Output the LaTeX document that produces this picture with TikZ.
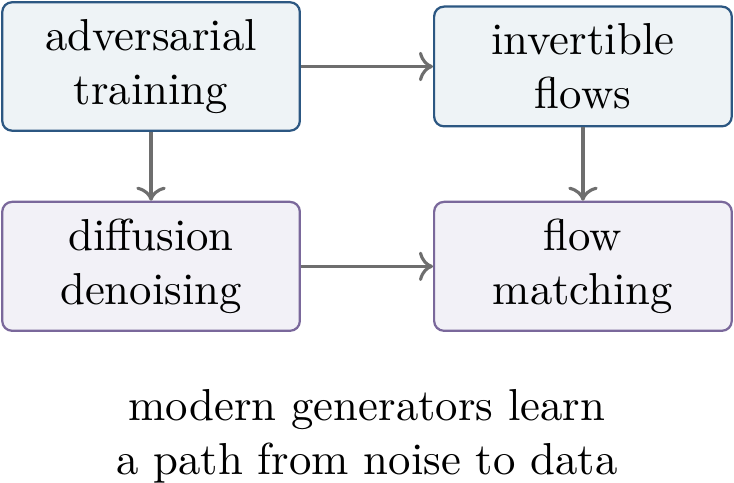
\documentclass[tikz,border=0pt]{standalone}
\usepackage{xcolor}
\usepackage{tikz}
\usetikzlibrary{arrows.meta,positioning,calc}
\definecolor{advblue}{RGB}{44,87,130}
\definecolor{advfill}{RGB}{238,243,246}
\definecolor{diffpurple}{RGB}{122,104,155}
\definecolor{difffill}{RGB}{242,241,247}
\definecolor{arrowgray}{RGB}{110,110,110}

\begin{document}
\begin{tikzpicture}
    \tikzstyle{box}=[draw, rounded corners=2.2pt, line width=0.5pt, inner sep=3.85pt, text width=58.8pt, align=center]
    \tikzstyle{link}=[-{To}, line width=0.7pt, arrowgray]
    \node[box, draw=advblue, fill=advfill] (adv) {adversarial\\training};
    \node[box, draw=advblue, fill=advfill, right=29.5pt of adv] (inv) {invertible\\flows};
    \node[box, draw=diffpurple, fill=difffill, below=15.4pt of adv] (diff) {diffusion\\denoising};
    \node[box, draw=diffpurple, fill=difffill, right=29.5pt of diff] (match) {flow\\matching};
    \draw[link] (adv) -- (inv);
    \draw[link] (adv) -- (diff);
    \draw[link] (inv) -- (match);
    \draw[link] (diff) -- (match);
    \node[align=center, inner sep=0pt, anchor=north] (caption) at ($(diff.south)!0.5!(match.south)+(0,-12.75pt)$)
      {modern generators learn\\a path from noise to data};
    \pgfresetboundingbox
    \path[use as bounding box] ($(adv.north west)+(-0.25pt,0.25pt)$) rectangle ($(match.south east)+(0.25pt,-33.65pt)$);
\end{tikzpicture}
\end{document}
